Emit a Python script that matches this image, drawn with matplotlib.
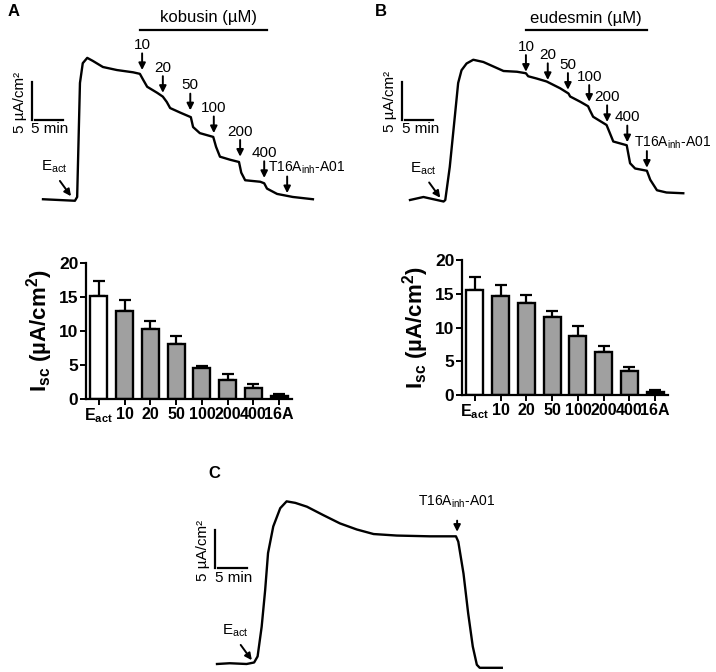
import numpy as np
import matplotlib
matplotlib.use('Agg')
import matplotlib.pyplot as plt

plt.rcParams['font.family'] = ['Liberation Sans', 'DejaVu Sans']
plt.rcParams['mathtext.fontset'] = 'custom'
plt.rcParams['mathtext.rm'] = 'Liberation Sans'
plt.rcParams['mathtext.it'] = 'Liberation Sans:italic'
plt.rcParams['mathtext.bf'] = 'Liberation Sans:bold'
plt.rcParams['mathtext.default'] = 'regular'

# ---- trace A (kobusin): time in min, Isc in uA/cm2 relative to baseline
trace_a_t = [0, 5.7, 6.1, 6.6, 7.1, 7.9, 8.9, 10.7, 13.2, 16.1, 17.3, 17.9, 18.6, 20.4,
             21.4, 22.1, 22.7, 24.5, 26.4, 26.8, 28.0, 30.4, 30.9, 31.6, 33.4, 35.0,
             35.4, 36.1, 38.8, 39.5, 40.0, 41.8, 44.6, 48.2]
trace_a_i = [0.1, -0.1, 0.4, 15.4, 18.0, 18.7, 18.3, 17.5, 17.1, 16.8, 16.6, 15.8, 14.9, 14.1,
             13.6, 12.9, 12.1, 11.5, 10.9, 9.6, 8.8, 8.3, 7.0, 5.7, 5.3, 5.0,
             3.6, 2.6, 2.4, 2.2, 1.5, 0.8, 0.4, 0.1]
arrows_a_t = [17.7, 21.4, 26.3, 30.5, 35.2, 39.5, 43.6]
arrows_a_i = [17.1, 14.1, 11.8, 8.8, 5.7, 2.9, 0.9]

# ---- trace B (eudesmin)
trace_b_t = [0, 2.4, 6.0, 6.3, 7.1, 8.0, 8.6, 9.2, 10.1, 11.3, 13.1, 14.9, 16.7, 19.1,
             20.7, 21.1, 22.6, 24.4, 26.8, 28.3, 28.6, 30.4, 31.8, 32.1, 32.7, 35.1,
             35.7, 36.3, 38.7, 39.3, 40.2, 42.3, 42.9, 44.1, 45.8, 48.8]
trace_b_i = [0, 0.4, -0.2, 0, 4.4, 11.1, 15.6, 17.3, 18.2, 18.7, 18.4, 17.8, 17.2, 17.1,
             16.9, 16.5, 16.2, 15.8, 14.9, 14.2, 13.8, 13.1, 12.5, 12.0, 11.1, 10.0,
             8.9, 7.8, 7.3, 4.9, 4.2, 3.9, 2.7, 1.3, 1.0, 0.9]
arrows_b_t = [20.7, 24.6, 28.2, 32.0, 35.2, 38.8, 42.3]
arrows_b_i = [17.1, 16.0, 14.7, 13.1, 10.4, 7.7, 4.3]

# ---- trace C (T16Ainh-A01 alone)
trace_c_t = [0, 2.2, 5.1, 6.4, 7.0, 7.7, 8.3, 8.8, 9.7, 10.9, 12.0, 13.5, 15.5, 18.3,
             21.2, 24.1, 27.0, 31.0, 36.7, 41.2, 41.6, 42.5, 43.3, 44.1, 44.8, 45.3, 49.1]
trace_c_i = [0, 0.1, 0, 0.2, 1.0, 4.9, 9.7, 14.6, 18.1, 20.5, 21.4, 21.2, 20.7, 19.6,
             18.5, 17.7, 17.1, 16.9, 16.8, 16.8, 16.1, 11.9, 6.7, 2.3, -0.1, -0.5, -0.5]

dose_labels = ['10', '20', '50', '100', '200', '400']
inh_label = 'T16A$_{inh}$-A01'

# ---- bar summaries
bar_labels = ['E$_{act}$', '10', '20', '50', '100', '200', '400', '16A']
kobusin_mean = [15.2, 12.9, 10.3, 8.1, 4.5, 2.8, 1.6, 0.5]
kobusin_err = [2.1, 1.6, 1.2, 1.2, 0.4, 0.9, 0.6, 0.3]
eudesmin_mean = [15.6, 14.7, 13.6, 11.5, 8.7, 6.3, 3.5, 0.5]
eudesmin_err = [1.9, 1.6, 1.2, 1.0, 1.5, 1.0, 0.6, 0.2]

W, H = 716, 672
fig = plt.figure(figsize=(W / 100, H / 100), dpi=100)


def trace_axes(box, origin, px_min, px_ua):
    # box = (left, top, right, bottom) in pixels, origin = pixel of (t=0, I=0)
    l, t, r, b = box
    ax = fig.add_axes([l / W, 1 - b / H, (r - l) / W, (b - t) / H])
    ax.set_xlim((l - origin[0]) / px_min, (r - origin[0]) / px_min)
    ax.set_ylim((origin[1] - b) / px_ua, (origin[1] - t) / px_ua)
    ax.axis('off')
    return ax


def scale_bar(ax, t0, i0):
    ax.plot([t0, t0], [i0, i0 + 5], color='black', lw=1.6)
    ax.plot([t0 + 0.5, t0 + 5.5], [i0, i0], color='black', lw=1.6)
    ax.text(t0 - 0.9, i0 + 2.4, '5 µA/cm²', rotation=90, ha='right', va='center', fontsize=11)
    ax.text(t0 - 0.1, i0 - 0.3, '5 min', ha='left', va='top', fontsize=11)


def arrow(ax, t, i, length=12, lw=1.4):
    ax.annotate('', xy=(t, i), xytext=(0, length), textcoords='offset points',
                arrowprops=dict(arrowstyle='-|>', color='black', lw=lw,
                                mutation_scale=10, shrinkA=0, shrinkB=0))


def eact(ax, t, i):
    ax.annotate('', xy=(t, i), xytext=(-8, 11), textcoords='offset points',
                arrowprops=dict(arrowstyle='-|>', color='black', lw=1.4,
                                mutation_scale=10, shrinkA=0, shrinkB=0))
    ax.annotate('E$_{act}$', xy=(t, i), xytext=(-12, 15), textcoords='offset points',
                ha='center', va='bottom', fontsize=11)


def dose_arrows(ax, ts, iis, inh_dx):
    for k, lbl in enumerate(dose_labels):
        arrow(ax, ts[k], iis[k])
        ax.annotate(lbl, xy=(ts[k], iis[k]), xytext=(0, 13), textcoords='offset points',
                    ha='center', va='bottom', fontsize=11)
    arrow(ax, ts[-1], iis[-1])
    ax.annotate(inh_label, xy=(ts[-1], iis[-1]), xytext=(inh_dx, 12), textcoords='offset points',
                ha='left', va='bottom', fontsize=10)


# panel A trace
ax_a = trace_axes((0, 0, 358, 215), (43, 200), 5.6, 7.6)
ax_a.plot(trace_a_t, trace_a_i, color='black', lw=1.7)
scale_bar(ax_a, -2.0, 10.5)
eact(ax_a, 5.0, 0.5)
dose_arrows(ax_a, arrows_a_t, arrows_a_i, -14)
ax_a.plot([17.3, 40.0], [22.4, 22.4], color='black', lw=1.6)
ax_a.text(29.5, 23.0, 'kobusin (µM)', ha='center', va='bottom', fontsize=12)

# panel B trace
ax_b = trace_axes((358, 0, 716, 215), (410, 200), 5.6, 7.5)
ax_b.plot(trace_b_t, trace_b_i, color='black', lw=1.7)
scale_bar(ax_b, -1.4, 10.7)
eact(ax_b, 5.4, 0.3)
dose_arrows(ax_b, arrows_b_t, arrows_b_i, -9)
ax_b.plot([20.7, 42.3], [22.7, 22.7], color='black', lw=1.6)
ax_b.text(31.4, 23.2, 'eudesmin (µM)', ha='center', va='bottom', fontsize=12)

# panel C trace
ax_c = trace_axes((190, 455, 530, 672), (217, 664), 5.8, 7.6)
ax_c.plot(trace_c_t, trace_c_i, color='black', lw=1.7)
scale_bar(ax_c, -0.3, 12.6)
eact(ax_c, 6.0, 0.5)
arrow(ax_c, 41.4, 17.4, length=8)
ax_c.annotate(inh_label, xy=(41.4, 17.4), xytext=(0, 16), textcoords='offset points',
              ha='center', va='bottom', fontsize=10)


def bar_panel(box, means, errs):
    l, t, r, b = box
    ax = fig.add_axes([l / W, 1 - b / H, (r - l) / W, (b - t) / H])
    x = np.arange(len(means))
    colors = ['white'] + ['#a0a0a0'] * (len(means) - 2) + ['black']
    ax.errorbar(x, means, yerr=[np.zeros(len(means)), errs], fmt='none',
                ecolor='black', elinewidth=1.6, capsize=4.5, capthick=1.6, zorder=1)
    ax.bar(x, means, width=0.66, color=colors, edgecolor='black', linewidth=1.7, zorder=2)
    ax.set_xlim(-0.5, len(means) - 0.5)
    ax.set_ylim(0, 20)
    ax.set_yticks([0, 5, 10, 15, 20])
    ax.set_xticks(x)
    ax.set_xticklabels(bar_labels, fontsize=11.5, fontweight='bold')
    for lab in ax.get_yticklabels():
        lab.set_fontsize(12.5)
        lab.set_fontweight('bold')
    ax.tick_params(axis='both', direction='out', length=4, width=1.4, pad=1.5)
    for s in ['top', 'right']:
        ax.spines[s].set_visible(False)
    for s in ['left', 'bottom']:
        ax.spines[s].set_linewidth(1.6)
    ax.set_ylabel('I$_{sc}$ (µA/cm$^{2}$)', fontsize=16, fontweight='bold', labelpad=3)
    return ax


bar_panel((86, 263, 292, 399), kobusin_mean, kobusin_err)
bar_panel((462, 260, 668, 395), eudesmin_mean, eudesmin_err)

fig.text(8 / W, 1 - 12 / H, 'A', fontsize=12, fontweight='bold', ha='left', va='center')
fig.text(375 / W, 1 - 12 / H, 'B', fontsize=12, fontweight='bold', ha='left', va='center')
fig.text(208 / W, 1 - 473 / H, 'C', fontsize=12, fontweight='bold', ha='left', va='center')

fig.savefig('out.png', dpi=100)
